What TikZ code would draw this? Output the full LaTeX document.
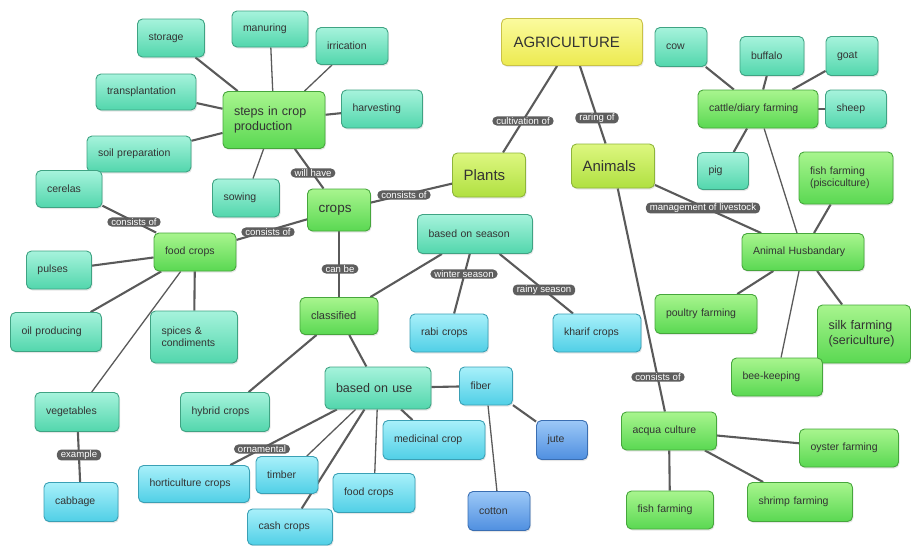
\documentclass[tikz,border=0pt]{standalone}
\usepackage{fontspec}
\setmainfont{Liberation Sans}
\usetikzlibrary{backgrounds,shadows}
\definecolor{tealT}{HTML}{A6F3DC}\definecolor{tealB}{HTML}{52D6AC}\definecolor{tealD}{HTML}{3FA383}
\definecolor{grT}{HTML}{A8F58E}\definecolor{grB}{HTML}{5AD852}\definecolor{grD}{HTML}{46A63C}
\definecolor{ygT}{HTML}{DDF780}\definecolor{ygB}{HTML}{B0E040}\definecolor{ygD}{HTML}{8EB53A}
\definecolor{yeT}{HTML}{FBFB9E}\definecolor{yeB}{HTML}{ECEA50}\definecolor{yeD}{HTML}{C9C247}
\definecolor{cyT}{HTML}{A8F0FA}\definecolor{cyB}{HTML}{50CFE6}\definecolor{cyD}{HTML}{3AA0B5}
\definecolor{blT}{HTML}{9CC8F7}\definecolor{blB}{HTML}{4F8FE0}\definecolor{blD}{HTML}{3A6EB2}
\definecolor{edc}{HTML}{5A5A5A}\definecolor{lblc}{HTML}{5E5E5E}\definecolor{txt}{HTML}{333333}
\tikzset{
 bx/.style={rounded corners=5pt, align=left, inner xsep=11pt, inner ysep=2pt, line width=0.9pt,
   font=\fontsize{10.5}{12}\selectfont, text=txt,
   drop shadow={shadow xshift=1pt, shadow yshift=-1.5pt, opacity=0.2}},
 tl/.style={bx, draw=tealD, top color=tealT, bottom color=tealB},
 gr/.style={bx, draw=grD, top color=grT, bottom color=grB},
 yg/.style={bx, draw=ygD, top color=ygT, bottom color=ygB},
 ye/.style={bx, draw=yeD, top color=yeT, bottom color=yeB},
 cy/.style={bx, draw=cyD, top color=cyT, bottom color=cyB},
 bl/.style={bx, draw=blD, top color=blT, bottom color=blB},
 big/.style={font=\fontsize{12.5}{14.5}\selectfont},
 huge/.style={font=\fontsize{15}{17}\selectfont},
 lbl/.style={fill=lblc, rounded corners=4.5pt, text=white, font=\fontsize{9.6}{10}\selectfont,
   inner xsep=4pt, inner ysep=1pt},
 ed/.style={draw=edc, line width=2.1pt},
 et/.style={draw=edc, line width=1.3pt},
}
\begin{document}
\begin{tikzpicture}[x=1pt,y=-1pt]
\useasboundingbox (0,0) rectangle (911,546);
% top-left: steps
\node[tl, minimum height=38, text width=45pt] (storage) at (171,38) {storage};
\node[tl, minimum height=36, text width=54pt] (manuring) at (270,29) {manuring};
\node[tl, minimum height=36, text width=78pt] (transpl) at (146,92) {transplantation};
\node[gr, big, minimum height=57, text width=80pt] (steps) at (274,120) {steps in crop\\production};
\node[tl, minimum height=36, text width=82pt] (soil) at (139,154) {soil preparation};
\node[tl, minimum height=37, text width=44pt] (cerelas) at (69,189) {cerelas};
\node[tl, minimum height=38, text width=45pt] (sowing) at (246,198) {sowing};
\node[tl, minimum height=37, text width=50pt] (irric) at (352,46) {irrication};
\node[tl, minimum height=38, text width=59pt] (harv) at (382,109) {harvesting};
% center top
\node[ye, huge, minimum height=47, text width=117pt, inner xsep=12pt] (agri) at (572,42) {AGRICULTURE};
\node[yg, huge, minimum height=44, text width=51pt] (plants) at (489,175) {Plants};
\node[yg, huge, minimum height=44, text width=61pt] (animals) at (613,166) {Animals};
% animals side
\node[tl, minimum height=39, text width=30pt] (cow) at (681,47) {cow};
\node[tl, minimum height=39, text width=42pt] (buffalo) at (772,56) {buffalo};
\node[tl, minimum height=39, text width=30pt] (goat) at (852,56) {goat};
\node[gr, minimum height=38, text width=98pt] (cattle) at (758,109) {cattle/diary farming};
\node[tl, minimum height=38, text width=39pt] (sheep) at (856,109) {sheep};
\node[tl, minimum height=37, text width=29pt] (pig) at (723,171) {pig};
\node[gr, minimum height=52, text width=72pt] (fishp) at (846,178) {fish farming\\(pisciculture)};
\node[gr, minimum height=37, text width=100pt] (ah) at (803,252) {Animal Husbandary};
\node[gr, minimum height=39, text width=80pt] (poultry) at (706,314) {poultry farming};
\node[gr, big, minimum height=58, text width=71pt] (silk) at (864,334) {silk farming\\(sericulture)};
\node[gr, minimum height=38, text width=69pt] (bee) at (777,377) {bee-keeping};
\node[gr, minimum height=38, text width=73pt] (acqua) at (669,431) {acqua culture};
\node[gr, minimum height=38, text width=77pt] (oyster) at (849,448) {oyster farming};
\node[gr, minimum height=39, text width=83pt] (shrimp) at (800,502) {shrimp farming};
\node[gr, minimum height=38, text width=65pt] (fishf) at (670,510) {fish farming};
% crops side
\node[gr, minimum height=38, text width=60pt] (food) at (195,252) {food crops};
\node[tl, minimum height=38, text width=43pt] (pulses) at (59,270) {pulses};
\node[tl, minimum height=39, text width=69pt] (oil) at (56,332) {oil producing};
\node[tl, minimum height=52, text width=65pt] (spices) at (194,337) {spices \&\\condiments};
\node[gr, font=\fontsize{13.5}{15}\selectfont, minimum height=42, text width=41pt] (crops) at (339,210) {crops};
\node[tl, minimum height=39, text width=93pt] (season) at (475,234) {based on season};
\node[gr, font=\fontsize{11}{12}\selectfont, minimum height=37, text width=56pt] (classified) at (339,316) {classified};
\node[cy, minimum height=38, text width=56pt] (rabi) at (449,333) {rabi crops};
\node[cy, minimum height=38, text width=66pt] (kharif) at (597,333) {kharif crops};
\node[tl, font=\fontsize{12.5}{14}\selectfont, minimum height=42, text width=84pt] (use) at (378,388) {based on use};
\node[cy, minimum height=38, text width=31pt] (fiber) at (486,386) {fiber};
\node[cy, minimum height=39, text width=80pt] (medic) at (434,440) {medicinal crop};
\node[bl, minimum height=39, text width=29pt] (jute) at (562,440) {jute};
\node[cy, minimum height=39, text width=60pt] (foodu) at (374,493) {food crops};
\node[bl, minimum height=39, text width=40pt] (cotton) at (499,511) {cotton};
\node[tl, minimum height=39, text width=62pt] (veg) at (77,412) {vegetables};
\node[cy, minimum height=39, text width=52pt] (cabbage) at (81,502) {cabbage};
\node[tl, minimum height=39, text width=67pt] (hybrid) at (225,412) {hybrid crops};
\node[cy, minimum height=37, text width=89pt] (horti) at (194,484) {horticulture crops};
\node[cy, minimum height=37, text width=40pt] (timber) at (287,475) {timber};
\node[cy, minimum height=36, text width=63pt] (cash) at (290,527) {cash crops};
% connectors
\begin{scope}[on background layer]
\draw[ed] (agri) -- (plants);
\draw[ed] (agri) -- (animals);
\draw[ed] (plants) -- (crops);
\draw[ed] (crops) -- (steps);
\draw[ed] (crops) -- (food);
\draw[et] (crops) -- (classified);
\draw[ed] (steps) -- (storage);
\draw[et] (steps) -- (manuring);
\draw[et] (steps) -- (irric);
\draw[ed] (steps) -- (transpl);
\draw[ed] (steps) -- (harv);
\draw[ed] (steps) -- (soil);
\draw[et] (steps) -- (sowing);
\draw[ed] (food) -- (cerelas);
\draw[ed] (food) -- (pulses);
\draw[ed] (food) -- (oil);
\draw[ed] (food) -- (spices);
\draw[et] (food) -- (veg);
\draw[ed] (classified) -- (season);
\draw[ed] (classified) -- (use);
\draw[ed] (classified) -- (hybrid);
\draw[ed] (season) -- (rabi);
\draw[ed] (season) -- (kharif);
\draw[ed] (use) -- (fiber);
\draw[ed] (use) -- (medic);
\draw[et] (use) -- (foodu);
\draw[ed] (use) -- (cash);
\draw[et] (use) -- (timber);
\draw[ed] (use) -- (horti);
\draw[ed] (fiber) -- (jute);
\draw[et] (fiber) -- (cotton);
\draw[ed] (veg) -- (cabbage);
\draw[ed] (animals) -- (ah);
\draw[ed] (animals) -- (acqua);
\draw[ed] (cattle) -- (cow);
\draw[ed] (cattle) -- (buffalo);
\draw[ed] (cattle) -- (goat);
\draw[ed] (cattle) -- (sheep);
\draw[ed] (cattle) -- (pig);
\draw[et] (cattle) -- (ah);
\draw[ed] (ah) -- (fishp);
\draw[ed] (ah) -- (poultry);
\draw[ed] (ah) -- (silk);
\draw[et] (ah) -- (bee);
\draw[ed] (acqua) -- (oyster);
\draw[ed] (acqua) -- (shrimp);
\draw[ed] (acqua) -- (fishf);
\end{scope}
% connector labels
\node[lbl] (l1) at (523,121) {cultivation of};
\node[lbl] (l2) at (597,118) {raring of};
\node[lbl] (l3) at (404,195) {consists of};
\node[lbl] (l4) at (313,173) {will have};
\node[lbl] (l5) at (268,232) {consists of};
\node[lbl] (l6) at (134,222) {consists of};
\node[lbl] (l7) at (340,269) {can be};
\node[lbl] (l8) at (464,274) {winter season};
\node[lbl] (l9) at (544,290) {rainy season};
\node[lbl] (l10) at (703,208) {management of livestock};
\node[lbl] (l11) at (658,377) {consists of};
\node[lbl] (l12) at (79,455) {example};
\node[lbl] (l13) at (262,449) {ornamental};
\end{tikzpicture}
\end{document}
